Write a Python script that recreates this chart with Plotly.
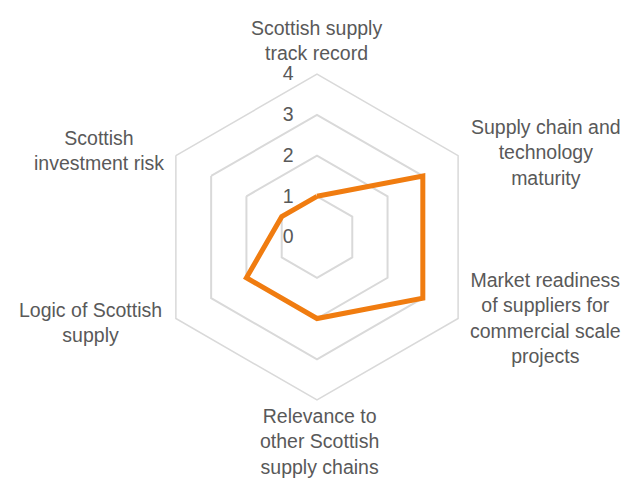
import plotly.graph_objects as go

categories = [
    "Scottish supply<br>track record",
    "Supply chain and<br>technology<br>maturity",
    "Market readiness<br>of suppliers for<br>commercial scale<br>projects",
    "Relevance to<br>other Scottish<br>supply chains",
    "Logic of Scottish<br>supply",
    "Scottish<br>investment risk",
]
values = [1, 3, 3, 2, 2, 1]
tick_vals = [0, 1, 2, 3, 4]

# label block centres (pixels in a 629x478 canvas), used only for layout
label_pos = [(317, 40), (546, 153), (545, 318), (319, 441), (90, 322), (99, 151)]

W, H = 629, 478
TXT = "#595959"
FONT = "Liberation Sans, Arial, sans-serif"
FS = 19.5

fig = go.Figure()
fig.add_trace(go.Scatterpolar(
    r=values + values[:1],
    theta=categories + categories[:1],
    mode="lines",
    line=dict(color="#F07C10", width=5),
    showlegend=False,
))

annotations = [
    dict(text=c, x=px / W, y=1 - py / H, xref="paper", yref="paper",
         xanchor="center", yanchor="middle", align="center", showarrow=False,
         font=dict(family=FONT, size=FS, color=TXT))
    for c, (px, py) in zip(categories, label_pos)
]

grid = "#D9D9D9"
fig.update_layout(
    width=W, height=H,
    margin=dict(l=0, r=0, t=0, b=0),
    paper_bgcolor="white",
    font=dict(family=FONT, size=FS, color=TXT),
    annotations=annotations,
    polar=dict(
        domain=dict(x=[0.2448, 0.7631], y=[0.1632, 0.845]),
        bgcolor="white",
        gridshape="linear",
        radialaxis=dict(
            range=[0, 4], tickvals=tick_vals, ticktext=[str(v) for v in tick_vals],
            angle=90, tickangle=90, side="counterclockwise",
            showline=False, ticks="outside", ticklen=16, tickcolor="rgba(0,0,0,0)",
            gridcolor=grid, gridwidth=1.5,
            tickfont=dict(family=FONT, size=FS, color=TXT),
        ),
        angularaxis=dict(
            rotation=90, direction="clockwise",
            showgrid=False, showline=True, linecolor=grid, linewidth=1.5,
            ticks="", showticklabels=False,
        ),
    ),
)
fig.write_html("out.html")
